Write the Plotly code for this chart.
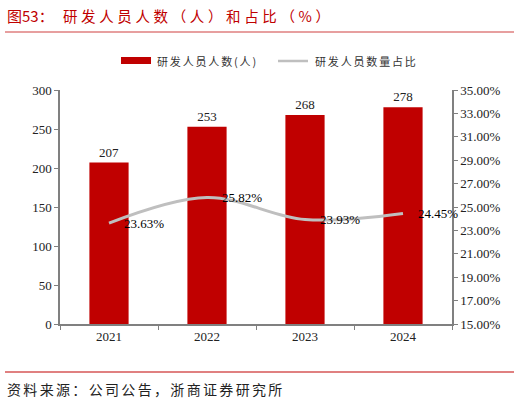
import plotly.graph_objects as go

years = ["2021", "2022", "2023", "2024"]
staff = [207, 253, 268, 278]
ratio = [23.63, 25.82, 23.93, 24.45]
ratio_labels = ["23.63%", "25.82%", "23.93%", "24.45%"]
left_ticks = [0, 50, 100, 150, 200, 250, 300]
right_ticks = [15, 17, 19, 21, 23, 25, 27, 29, 31, 33, 35]
bar_name = "研发人员人数(人)"
line_name = "研发人员数量占比"
title_num = "图53："
title_text = "研发人员人数（人）和占比（%）"
source = "资料来源：公司公告，浙商证券研究所"

serif = "Liberation Serif, Times New Roman, serif"
cjk = "Noto Sans CJK SC"
BAR_COLOR = "#c00000"
LINE_COLOR = "#bfbfbf"

L, R, T, B = 60, 68, 90, 79
PW, PH = 520 - L - R, 403 - T - B


def px_x(x):
    return (x - L) / PW


def px_y(y):
    return (403 - B - y) / PH


def spaced(s, sp):
    return sp.join(list(s))


fig = go.Figure()
fig.add_trace(go.Bar(
    x=years, y=staff, name=bar_name,
    marker=dict(color=BAR_COLOR, line=dict(width=0)),
    width=0.4,
    text=[str(v) for v in staff], textposition="outside",
    textfont=dict(family=serif, size=13, color="#222222"),
    cliponaxis=False, showlegend=False,
))
fig.add_trace(go.Scatter(
    x=years, y=ratio, name=line_name, yaxis="y2",
    mode="lines",
    line=dict(color=LINE_COLOR, width=3, shape="spline", smoothing=1.0),
    cliponaxis=False, showlegend=False,
))
for i, (v, lab) in enumerate(zip(ratio, ratio_labels)):
    fig.add_annotation(x=i, y=v, xref="x", yref="y2", text=lab, showarrow=False,
                       xanchor="left", yanchor="middle", xshift=13,
                       font=dict(family=serif, size=13, color="#000000"))

fig.update_layout(
    width=520, height=403,
    margin=dict(l=L, r=R, t=T, b=B),
    paper_bgcolor="white", plot_bgcolor="white",
    showlegend=False,
    xaxis=dict(
        type="category", categoryorder="array", categoryarray=years,
        range=[-0.5, len(years) - 0.5],
        showline=True, linecolor="#808080", linewidth=1.5,
        ticks="outside", tickson="boundaries", ticklen=4, tickcolor="#808080",
        tickfont=dict(family=serif, size=13, color="#222222"),
        showgrid=False, zeroline=False,
    ),
    yaxis=dict(
        range=[0, 300], tickvals=left_ticks, showline=True, linecolor="#808080",
        linewidth=1.5, ticks="outside", ticklen=4, tickcolor="#808080",
        tickfont=dict(family=serif, size=13, color="#222222"),
        showgrid=False, zeroline=False,
    ),
    yaxis2=dict(
        range=[15, 35], tickvals=right_ticks,
        ticktext=[f"{v:.2f}%" for v in right_ticks],
        overlaying="y", side="right", showline=True, linecolor="#808080",
        linewidth=1.5, ticks="outside", ticklen=4, tickcolor="#808080",
        tickfont=dict(family=serif, size=13, color="#222222"),
        showgrid=False, zeroline=False,
    ),
)

# manual legend
fig.add_shape(type="rect", xref="paper", yref="paper",
              x0=px_x(121), x1=px_x(151), y0=px_y(64), y1=px_y(57),
              fillcolor=BAR_COLOR, line=dict(width=0))
fig.add_annotation(text=spaced(bar_name, "\u2006"), xref="paper", yref="paper",
                   x=px_x(155), y=px_y(61), xanchor="left", yanchor="middle",
                   showarrow=False, font=dict(family=cjk, size=11, color="#333333"))
fig.add_shape(type="line", xref="paper", yref="paper",
              x0=px_x(278), x1=px_x(308), y0=px_y(61), y1=px_y(61),
              line=dict(color=LINE_COLOR, width=2.5))
fig.add_annotation(text=spaced(line_name, "\u2006"), xref="paper", yref="paper",
                   x=px_x(313), y=px_y(61), xanchor="left", yanchor="middle",
                   showarrow=False, font=dict(family=cjk, size=11, color="#333333"))

# title, source and rules
fig.add_annotation(text=title_num, xref="paper", yref="paper",
                   x=px_x(5), y=px_y(15), xanchor="left", yanchor="middle",
                   showarrow=False, font=dict(family=cjk, size=15, color="#c00000"))
fig.add_annotation(text=spaced(title_text, "\u2005"), xref="paper", yref="paper",
                   x=px_x(61), y=px_y(15), xanchor="left", yanchor="middle",
                   showarrow=False, font=dict(family=cjk, size=14.5, color="#c00000"))
fig.add_annotation(text=spaced(source, "\u2006"), xref="paper", yref="paper",
                   x=px_x(5), y=px_y(389), xanchor="left", yanchor="middle",
                   showarrow=False, font=dict(family=cjk, size=14, color="#222222"))
fig.add_shape(type="line", xref="paper", yref="paper",
              x0=px_x(5), x1=px_x(514), y0=px_y(32), y1=px_y(32),
              line=dict(color="#d04040", width=1.2))
fig.add_shape(type="line", xref="paper", yref="paper",
              x0=px_x(5), x1=px_x(514), y0=px_y(372), y1=px_y(372),
              line=dict(color="#e08080", width=2))

fig.write_html("out.html")
